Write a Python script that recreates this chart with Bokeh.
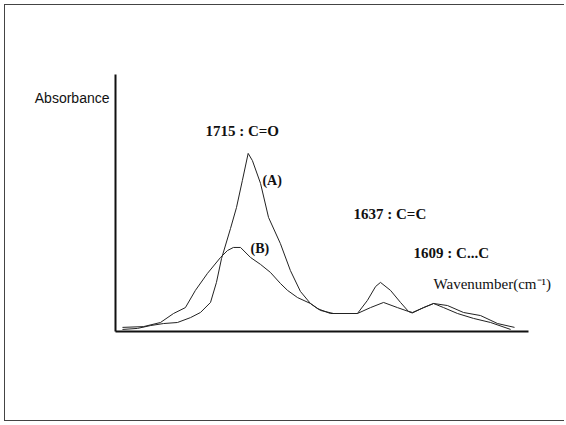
from bokeh.plotting import figure
from bokeh.models import Range1d, FixedTicker, Label
from bokeh.embed import file_html
from bokeh.resources import INLINE

# Spectrum A (wavenumber cm^-1, absorbance in arbitrary units)
wn_a = [1789.1, 1780.3, 1772.6, 1764.9, 1756.7, 1749.0, 1743.1, 1737.2, 1733.7, 1730.7,
        1725.4, 1721.9, 1718.4, 1715.0, 1712.5, 1707.7, 1703.0, 1696.0, 1690.1, 1684.2,
        1678.3, 1672.4, 1664.7, 1650.6, 1644.7, 1639.9, 1637.0, 1631.1, 1625.2, 1620.5,
        1618.3, 1611.6, 1605.7, 1599.8, 1591.6, 1582.2, 1572.1, 1560.3]
abs_a = [0.8, 1.2, 2.3, 3.1, 3.5, 5.4, 7.4, 11.3, 19.1, 28.4,
         40.1, 48.2, 58.8, 69.3, 66.5, 57.6, 44.4, 34.2, 23.7, 15.6,
         10.9, 8.2, 7.0, 7.0, 12.1, 17.5, 19.1, 16.0, 11.3, 7.8,
         7.2, 9.3, 10.9, 9.3, 7.0, 5.1, 3.5, 0.8]

# Spectrum B
wn_b = [1789.1, 1776.7, 1766.7, 1759.0, 1752.0, 1746.1, 1739.0, 1731.3, 1727.2, 1723.7,
        1719.5, 1713.6, 1707.7, 1701.9, 1696.0, 1691.8, 1685.9, 1678.3, 1674.1, 1666.5,
        1650.6, 1642.9, 1635.2, 1627.0, 1620.5, 1618.1, 1611.6, 1605.7, 1597.5, 1588.1,
        1578.0, 1568.0, 1558.0]
abs_b = [1.6, 1.9, 3.5, 7.0, 9.3, 16.0, 22.6, 28.8, 31.5, 32.7,
         32.7, 28.8, 26.1, 23.0, 18.7, 16.0, 13.2, 10.9, 8.9, 7.0,
         7.0, 9.3, 11.3, 9.3, 7.8, 7.4, 9.3, 10.9, 10.1, 7.4,
         6.2, 3.1, 1.6]

# Texts
y_label = "Absorbance"
y_label_at = 91.0
x_label = "Wavenumber(cm\u207b\u00b9)"
curve_labels = ["(A)", "(B)"]
peak_labels = ["1715 : C=O", "1637 : C=C", "1609 : C...C"]

x_start, x_end, x_axis_end = 1793.2, 1530.9, 1549.7

p = figure(width=560, height=417, output_backend="svg", toolbar_location=None,
           x_range=Range1d(x_start, x_end), y_range=Range1d(0, 100),
           min_border_left=110, min_border_right=5, min_border_top=69, min_border_bottom=91)
p.styles = {"border": "1px solid #444", "border-right": "none",
            "margin-left": "4px", "margin-top": "4px"}
p.background_fill_color = "white"
p.border_fill_color = "white"
p.outline_line_color = None
p.xgrid.grid_line_color = None
p.ygrid.grid_line_color = None

xa = p.xaxis[0]
xa.ticker = FixedTicker(ticks=[])
xa.major_label_text_font_size = "0px"
xa.bounds = (x_start, x_axis_end)

ya = p.yaxis[0]
ya.ticker = FixedTicker(ticks=[y_label_at])
ya.major_label_overrides = {y_label_at: y_label}
ya.major_label_text_font = "Liberation Sans"
ya.major_label_text_font_size = "14px"
ya.major_label_text_color = "#111111"
ya.major_label_standoff = 6

for ax in (xa, ya):
    ax.major_tick_line_color = None
    ax.minor_tick_line_color = None
    ax.major_tick_out = 0
    ax.major_tick_in = 0
    ax.axis_line_width = 2
    ax.axis_line_color = "#111111"

p.line(wn_a, abs_a, line_color="#222222", line_width=1)
p.line(wn_b, abs_b, line_color="#222222", line_width=1)

serif = "Liberation Serif"
def add_label(x, y, text, size="15px", weight="bold"):
    p.add_layout(Label(x=x, y=y, text=text, text_font=serif, text_font_size=size,
                       text_font_style=weight, text_color="#111111",
                       text_align="left", text_baseline="middle"))

add_label(1740.2, 78.2, peak_labels[0])
add_label(1706.6, 58.6, curve_labels[0], size="14px")
add_label(1713.6, 32.3, curve_labels[1], size="14px")
add_label(1652.9, 45.9, peak_labels[1])
add_label(1617.5, 30.7, peak_labels[2])
add_label(1605.7, 18.3, x_label, weight="normal")

open("out.html", "w").write(file_html(p, INLINE))
